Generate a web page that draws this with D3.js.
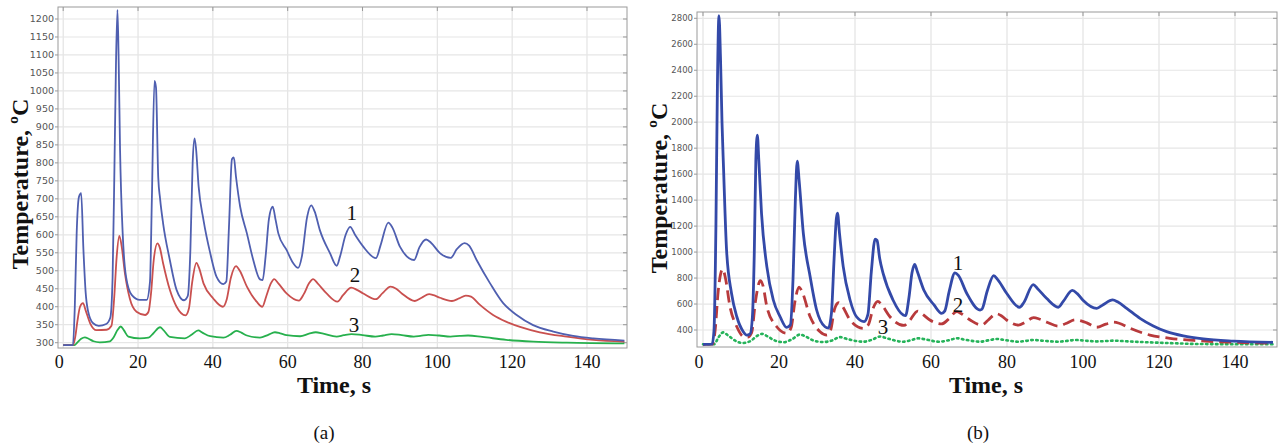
<!DOCTYPE html>
<html><head><meta charset="utf-8">
<script src="https://cdn.jsdelivr.net/npm/d3@7"></script>
<style>body{margin:0;background:#fff} svg{display:block}</style>
</head><body>
<svg id="c" width="1279" height="443"></svg>
<script>
// ---------- data ----------
const xTicks = [0, 20, 40, 60, 80, 100, 120, 140];
const yTicksA = [300, 350, 400, 450, 500, 550, 600, 650, 700, 750, 800, 850, 900, 950, 1000, 1050, 1100, 1150, 1200];
const yTicksB = [400, 600, 800, 1000, 1200, 1400, 1600, 1800, 2000, 2200, 2400, 2600, 2800];
const curveNames = ["1", "2", "3"];
// annotation anchor [time, temperature]
const notesA = [[77.1, 661], [78.0, 488], [77.7, 349]];
const notesB = [[67.1, 916], [67.1, 592], [47.4, 423]];

// (a) curve 1 [time s, temperature C]
const a1 = [[0,293],[2.6,293],[3.1,400],[3.6,604],[4.2,705],[4.8,716],[5.4,560],[6.0,440],[6.6,390],[8.0,354],[9.5,347],[11.5,352],[12.6,370],[13.2,480],[13.7,790],[14.1,1070],[14.5,1225],[14.8,1100],[15.2,835],[15.9,604],[16.8,483],[18.3,433],[20.5,419],[22.3,419],[23.2,470],[23.7,700],[24.4,1028],[24.8,1010],[25.4,760],[25.9,700],[26.7,632],[28.5,530],[30.3,447],[32.3,418],[33.3,430],[34.0,560],[34.6,800],[35.1,868],[35.5,840],[36.2,734],[37.5,641],[39.3,549],[41.0,483],[42.8,463],[43.6,470],[44.3,620],[45.1,810],[45.6,815],[46.2,760],[47.3,678],[49.1,604],[50.8,530],[52.6,476],[53.3,474],[54.1,540],[55.0,645],[56.0,678],[56.8,640],[57.5,604],[59.7,558],[61.5,521],[62.8,508],[63.8,540],[65.2,650],[66.3,682],[67.2,665],[68.6,613],[71.3,549],[73.1,514],[74.0,540],[75.5,600],[76.7,622],[78.0,600],[80.2,567],[83.6,535],[84.8,570],[86.9,634],[88.0,620],[90.0,567],[93.8,530],[95.2,565],[97.0,587],[98.3,578],[100.7,549],[103.6,536],[105.2,560],[107.3,577],[108.5,570],[110.5,530],[114.1,465],[117.6,410],[121.2,377],[125.6,349],[131.0,331],[136.3,319],[141.7,312],[150,306]];
// (a) curve 2
const a2 = [[0,293],[2.6,293],[3.2,315],[3.8,360],[4.5,400],[5.3,410],[6.0,390],[7.2,354],[8.9,335],[11.6,336],[12.9,347],[13.6,420],[14.3,540],[15.0,597],[15.6,570],[16.5,493],[17.8,423],[19.6,386],[21.9,377],[22.8,386],[23.5,440],[24.2,530],[25.2,576],[25.8,565],[26.7,521],[28.5,447],[30.3,400],[32.7,376],[33.6,395],[34.5,470],[35.6,522],[36.3,508],[37.5,465],[40.1,423],[42.7,400],[43.7,420],[44.8,480],[46.2,513],[47.2,500],[49.1,456],[51.7,414],[53.2,400],[54.3,430],[55.5,465],[56.4,477],[57.5,465],[59.7,437],[63.0,417],[64.3,435],[65.7,465],[66.8,477],[68.0,465],[70.4,437],[73.3,414],[74.8,432],[77.0,453],[78.5,447],[80.2,437],[83.6,421],[85.3,437],[87.5,456],[89.0,450],[90.5,437],[94.0,416],[95.8,425],[97.8,435],[99.0,432],[100.7,425],[103.9,416],[105.8,423],[107.6,431],[109.0,428],[111.4,405],[114.9,377],[118.5,358],[122.1,344],[127.4,329],[134.6,317],[141.7,308],[150,303]];
// (a) curve 3
const a3 = [[0,293],[3.0,293],[3.8,301],[4.8,311],[5.8,315],[6.8,311],[8.1,304],[9.8,301],[12.5,304],[13.5,315],[14.5,335],[15.4,345],[16.2,335],[17.4,317],[20.5,312],[22.8,314],[24.0,325],[25.9,343],[26.8,335],[28.5,316],[32.5,312],[34.3,322],[36.1,334],[37.2,328],[39.3,318],[42.8,314],[44.6,322],[46.3,333],[47.6,328],[49.1,320],[52.6,314],[54.8,322],[56.6,329],[58.0,326],[59.7,321],[63.3,318],[65.7,325],[67.5,329],[69.5,325],[73.1,317],[75.0,321],[77.1,324],[80.0,321],[83.4,317],[85.5,320],[87.8,324],[90.5,321],[93.7,317],[95.5,319],[97.6,322],[100.5,320],[103.5,317],[106.0,319],[108.2,320],[112.0,316],[118.4,308],[125.6,303],[134.6,300],[150,298]];
// (b) curve 1
const b1 = [[0,290],[2.4,291],[2.9,400],[3.4,1200],[3.8,2300],[4.2,2820],[4.6,2500],[5.0,2000],[5.4,1650],[6.2,1016],[7.5,683],[8.9,502],[10.6,387],[11.5,360],[12.4,370],[13.0,500],[13.5,1000],[13.9,1700],[14.3,1900],[14.7,1700],[15.4,1298],[16.8,888],[18.5,631],[20.3,502],[22.0,420],[23.0,440],[23.7,800],[24.3,1400],[24.8,1700],[25.3,1550],[26.4,1145],[28.2,810],[29.9,554],[32.1,425],[33.0,415],[33.8,530],[34.5,950],[35.1,1260],[35.4,1300],[35.9,1150],[36.9,888],[38.7,631],[40.4,502],[42.4,465],[43.4,520],[44.3,850],[45.3,1100],[45.8,1090],[46.5,950],[47.4,836],[50.0,631],[52.7,515],[53.3,510],[54.2,650],[55.0,840],[55.7,905],[56.4,850],[58.1,708],[60.8,593],[62.8,528],[63.6,545],[64.8,700],[66.3,840],[67.2,820],[69.4,683],[72.9,554],[73.4,560],[74.8,700],[76.5,818],[77.5,790],[79.9,683],[83.3,575],[84.4,610],[86.9,750],[88.0,720],[90.4,644],[93.5,575],[94.8,620],[97.2,705],[98.5,680],[100.0,630],[103.6,567],[105.3,595],[107.8,632],[109.2,615],[111.5,567],[115.0,490],[118.5,431],[122.0,387],[126.4,354],[131.7,331],[139.6,315],[150,305]];
// (b) curve 2
const b2 = [[0,290],[2.5,291],[3.2,400],[4.0,700],[5.2,870],[5.9,800],[7.1,580],[8.9,425],[10.6,350],[11.7,345],[12.8,380],[13.8,620],[15.1,780],[15.8,740],[16.8,580],[19.4,425],[22.0,375],[23.2,420],[24.2,620],[25.3,730],[26.0,700],[28.2,502],[30.8,387],[32.6,361],[33.6,400],[34.6,560],[35.7,610],[36.5,590],[38.7,477],[42.2,413],[43.5,440],[44.8,570],[46.0,620],[47.0,595],[49.2,502],[52.9,435],[54.3,470],[56.5,545],[57.6,525],[59.7,477],[62.8,447],[64.5,480],[66.8,542],[68.0,525],[70.3,477],[73.3,438],[75.0,475],[77.2,525],[78.5,510],[79.9,477],[83.0,438],[84.8,460],[87.0,495],[88.5,485],[90.5,460],[93.5,430],[95.5,450],[97.9,478],[99.5,470],[101.0,455],[103.6,421],[106.0,445],[108.0,460],[109.5,452],[112.4,413],[117.6,361],[122.9,336],[129.9,318],[139.6,305],[150,298]];
// (b) curve 3
const b3 = [[0,290],[3.0,291],[4.0,340],[5.3,382],[6.5,360],[8.5,318],[10.4,300],[12.5,315],[14.0,350],[15.6,370],[17.0,350],[19.0,318],[21.2,306],[23.5,330],[25.5,365],[27.0,350],[29.0,320],[31.6,307],[34.0,320],[36.0,345],[38.0,330],[42.2,310],[44.5,325],[46.6,350],[48.5,335],[52.7,310],[54.8,322],[56.6,336],[58.5,328],[62.0,310],[64.8,322],[66.8,336],[69.0,325],[72.9,310],[75.0,320],[77.3,331],[79.5,322],[83.0,310],[85.0,316],[87.0,323],[89.5,317],[93.5,310],[95.8,316],[98.0,323],[100.5,318],[103.6,312],[106.0,315],[108.0,318],[112.0,312],[117.6,305],[124.0,298],[130.8,292],[150,290]];

// ---------- layout ----------
const svg = d3.select("#c");
const serif = "'Liberation Serif', 'DejaVu Serif', serif";

const panels = [
  { frame:{l:58, r:627, t:7, b:348}, xr:[63.2, 624.4], yd:[300,1200], yr:[342.7,19],
    yTicks:yTicksA, tickFont:9.5, tickX:54, series:[a1,a2,a3], notes:notesA,
    styles:[{c:"#4f5fb0", w:1.8, d:null},{c:"#c9504f", w:1.8, d:null},{c:"#27b04d", w:1.8, d:null}],
    ytitle:{x:20, y:184}, xtitle:{x:334, y:393}, sub:{x:324, y:439, t:"(a)"} },
  { frame:{l:697, r:1277, t:12, b:347}, xr:[703, 1273], yd:[400,2800], yr:[330,18.3],
    yTicks:yTicksB, tickFont:8.5, tickX:693, series:[b1,b2,b3], notes:notesB,
    styles:[{c:"#3349a8", w:2.8, d:null},{c:"#b83a3c", w:2.8, d:"12,6"},{c:"#26b35a", w:2.6, d:"1.5,3.5"}],
    ytitle:{x:659, y:188}, xtitle:{x:986, y:393}, sub:{x:978, y:439, t:"(b)"} }
];

panels.forEach((p, i) => {
  const x = d3.scaleLinear().domain([0,150]).range(p.xr);
  const y = d3.scaleLinear().domain(p.yd).range(p.yr);
  const f = p.frame;
  const g = svg.append("g");

  // grid
  g.append("g").selectAll("line").data(xTicks).join("line")
    .attr("x1", d => x(d)).attr("x2", d => x(d)).attr("y1", f.t).attr("y2", f.b)
    .attr("stroke", "#e3e3e3").attr("stroke-width", 1.2);
  g.append("g").selectAll("line").data(p.yTicks).join("line")
    .attr("x1", f.l).attr("x2", f.r).attr("y1", d => y(d)).attr("y2", d => y(d))
    .attr("stroke", "#e6e6e6").attr("stroke-width", 1.2);

  // right & top inner ticks, left outer ticks
  g.append("g").selectAll("line").data(p.yTicks).join("line")
    .attr("x1", f.r - 4).attr("x2", f.r).attr("y1", d => y(d)).attr("y2", d => y(d))
    .attr("stroke", "#999");
  g.append("g").selectAll("line").data(p.yTicks).join("line")
    .attr("x1", f.l - 3).attr("x2", f.l).attr("y1", d => y(d)).attr("y2", d => y(d))
    .attr("stroke", "#999");
  g.append("g").selectAll("line").data(xTicks).join("line")
    .attr("x1", d => x(d)).attr("x2", d => x(d)).attr("y1", f.t).attr("y2", f.t + 4)
    .attr("stroke", "#999");

  // frame
  g.append("rect").attr("x", f.l).attr("y", f.t).attr("width", f.r - f.l).attr("height", f.b - f.t)
    .attr("fill", "none").attr("stroke", "#9a9a9a").attr("stroke-width", 1);

  // clip
  const cid = "clip" + i;
  svg.append("clipPath").attr("id", cid).append("rect")
    .attr("x", f.l).attr("y", f.t).attr("width", f.r - f.l).attr("height", f.b - f.t);

  const line = d3.line().x(d => x(d[0])).y(d => y(d[1])).curve(d3.curveMonotoneX);
  const lg = g.append("g").attr("clip-path", `url(#${cid})`);
  // draw in order 3,2,1 so 1 on top
  [2,1,0].forEach(k => {
    const s = p.styles[k];
    lg.append("path").datum(p.series[k]).attr("d", line)
      .attr("fill", "none").attr("stroke", s.c).attr("stroke-width", s.w)
      .attr("stroke-linejoin", "round").attr("stroke-linecap", s.d && s.d.startsWith("1.5") ? "round" : "butt")
      .attr("stroke-dasharray", s.d);
  });

  // y tick labels
  g.append("g").selectAll("text").data(p.yTicks).join("text")
    .attr("x", p.tickX).attr("y", d => y(d)).attr("dy", "0.35em")
    .attr("text-anchor", "end").attr("font-family", "'DejaVu Sans', sans-serif")
    .attr("font-size", p.tickFont).attr("fill", "#555").text(d => d);

  // x tick labels
  g.append("g").selectAll("text").data(xTicks).join("text")
    .attr("x", d => x(d) - (d === 0 ? 4 : 0)).attr("y", 368)
    .attr("text-anchor", "middle").attr("font-family", serif)
    .attr("font-size", 18).attr("fill", "#111").text(d => d);

  // curve numbers
  g.append("g").selectAll("text").data(p.notes).join("text")
    .attr("x", d => x(d[0])).attr("y", d => y(d[1])).attr("dy", "0.35em")
    .attr("text-anchor", "middle").attr("font-family", serif)
    .attr("font-size", 21).attr("fill", "#111").text((d, j) => curveNames[j]);

  // titles
  g.append("text").attr("transform", `translate(${p.ytitle.x},${p.ytitle.y}) rotate(-90)`)
    .attr("text-anchor", "middle").attr("dy", "0.35em").attr("font-family", serif)
    .attr("font-weight", "bold").attr("font-size", 24).attr("fill", "#111")
    .text("Temperature, ºC");
  g.append("text").attr("x", p.xtitle.x).attr("y", p.xtitle.y)
    .attr("text-anchor", "middle").attr("font-family", serif)
    .attr("font-weight", "bold").attr("font-size", 24).attr("fill", "#111")
    .text("Time, s");
  g.append("text").attr("x", p.sub.x).attr("y", p.sub.y)
    .attr("text-anchor", "middle").attr("font-family", serif)
    .attr("font-size", 19).attr("fill", "#111").text(p.sub.t);
});
</script>
</body></html>
